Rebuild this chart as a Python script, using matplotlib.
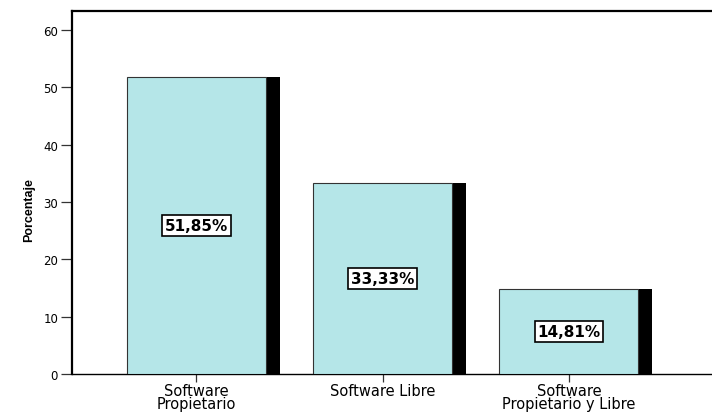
import numpy as np
import matplotlib.pyplot as plt

plt.rcParams['font.family'] = ['DejaVu Sans']

# datos
categorias = ['Software\nPropietario', 'Software Libre', 'Software\nPropietario y Libre']
porcentajes = [51.85, 33.33, 14.81]
etiquetas = ['51,85%', '33,33%', '14,81%']
yticks = [0, 10, 20, 30, 40, 50, 60]

fig = plt.figure(figsize=(7.12, 4.14), dpi=100)
ax = fig.add_axes([72 / 712, 1 - 375 / 414, 640 / 712, 363 / 414])

x = np.arange(len(categorias))
ancho = 0.746
sombra = 0.075

# sombra negra a la derecha de cada barra
ax.bar(x + ancho / 2 + sombra / 2, porcentajes, width=sombra, color='black', zorder=2)
ax.bar(x, porcentajes, width=ancho, color='#b5e6e8', edgecolor='#333333', linewidth=0.8, zorder=3)

for xi, v, t in zip(x, porcentajes, etiquetas):
    ax.text(xi, v / 2, t, ha='center', va='center', fontsize=11, fontweight='bold', zorder=5,
            bbox=dict(boxstyle='square,pad=0.18', facecolor='white', edgecolor='black', linewidth=1.2))

ax.set_xlim(-0.668, 2.768)
ax.set_ylim(0, 63.35)
ax.set_xticks(x)
ax.set_xticklabels(categorias, fontsize=10.5, linespacing=0.8)
ax.set_yticks(yticks)
ax.set_yticklabels([str(t) for t in yticks], fontsize=8.5)
ax.tick_params(axis='y', length=8, width=0.9, color='#333333', pad=2)
ax.tick_params(axis='x', length=5.5, width=0.9, color='#333333', pad=1)

ax.set_ylabel('Porcentaje', fontsize=9, fontweight='bold', family=['Liberation Sans', 'DejaVu Sans'])
ax.yaxis.set_label_coords(-0.058, 0.455)

ax.spines['right'].set_visible(False)
ax.spines['left'].set_linewidth(1.6)
ax.spines['top'].set_linewidth(1.6)
ax.spines['bottom'].set_linewidth(1.0)

fig.savefig('out.png', dpi=100)
